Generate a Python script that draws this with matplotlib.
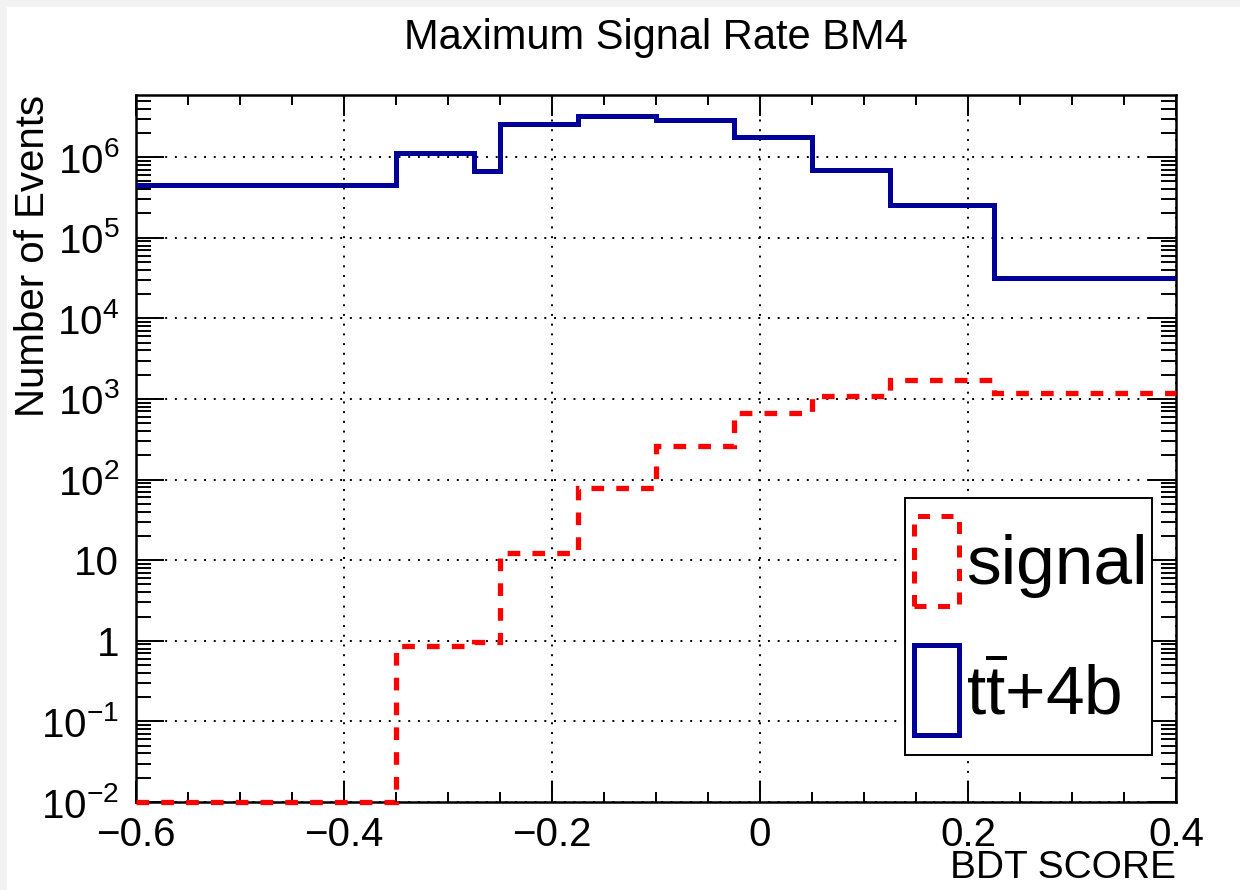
import numpy as np
import matplotlib
matplotlib.use("Agg")
from matplotlib import pyplot as plt
from matplotlib.patches import Rectangle
from matplotlib.ticker import FixedLocator, FuncFormatter, LogLocator, MultipleLocator

plt.rcParams['font.family'] = ['Liberation Sans', 'DejaVu Sans']
plt.rcParams['mathtext.fontset'] = 'custom'
plt.rcParams['mathtext.rm'] = 'Liberation Sans'
plt.rcParams['mathtext.it'] = 'Liberation Sans:italic'
plt.rcParams['mathtext.default'] = 'regular'

# BDT score bin edges (variable width)
bin_edges = [-0.6, -0.35, -0.275, -0.25, -0.175, -0.1, -0.025, 0.05, 0.125, 0.225, 0.4]

# expected events per bin
signal = [0.01, 0.86, 0.96, 12.4, 78, 259, 670, 1080, 1740, 1200]
ttbar_4b = [4.45e5, 1.13e6, 6.8e5, 2.61e6, 3.2e6, 2.93e6, 1.78e6, 7.0e5, 2.56e5, 3.16e4]

labels = ["signal", r"$\mathregular{t\overline{t}}$+4b"]
title = "Maximum Signal Rate BM4"

W, H = 1240, 890
fig = plt.figure(figsize=(W / 100, H / 100), dpi=100, facecolor="#f2f2f2")
fig.patches.append(Rectangle((7 / W, 0), 1, 1 - 7 / H, transform=fig.transFigure,
                             facecolor="white", edgecolor="none", zorder=-10))

ax = fig.add_axes([136 / W, 1 - 802 / H, 1040 / W, 707 / H])

red_ls = (0, (2.4, 2.3))
ax.stairs(signal, bin_edges, baseline=None, color="#ff0000", lw=3.8,
          linestyle=red_ls, clip_on=False, zorder=3)
ax.stairs(ttbar_4b, bin_edges, baseline=None, color="#000099", lw=3.6, zorder=3)

ax.set_yscale("log")
ax.set_xlim(-0.6, 0.4)
ax.set_ylim(0.01, 5.9e6)

# ticks ROOT style: inward, on all four sides
ax.xaxis.set_major_locator(MultipleLocator(0.2))
ax.xaxis.set_minor_locator(MultipleLocator(0.05))
ax.yaxis.set_major_locator(FixedLocator([10.0 ** k for k in range(-2, 7)]))
ax.yaxis.set_minor_locator(LogLocator(base=10, subs=np.arange(2, 10), numticks=20))


def ylab(v, pos):
    k = int(round(np.log10(v)))
    if k == 0:
        return "1"
    if k == 1:
        return "10"
    return r"$10^{%d}$" % k


def xlab(v, pos):
    if abs(v) < 1e-9:
        return "0"
    return ("%.1f" % v).replace("-", "\u2212")


ax.yaxis.set_major_formatter(FuncFormatter(ylab))
ax.xaxis.set_major_formatter(FuncFormatter(xlab))

ax.tick_params(axis="both", which="both", direction="in", top=True, right=True,
               width=1.4, labelsize=29)
ax.tick_params(axis="x", which="major", length=15, pad=10)
ax.tick_params(axis="x", which="minor", length=7)
ax.tick_params(axis="y", which="major", length=20, pad=12)
ax.tick_params(axis="y", which="minor", length=11)
for s in ax.spines.values():
    s.set_linewidth(1.8)

ax.grid(True, which="major", color="black", linestyle=(0, (1, 4)), lw=1.4)

ax.set_xlabel("BDT SCORE", fontsize=28, ha="right")
ax.xaxis.set_label_coords(1.0, -0.068)
ax.set_ylabel("Number of Events", fontsize=29, ha="right", va="center")
ax.yaxis.set_label_coords(-0.099, 1.0)

fig.text(656 / W, 1 - 38 / H, title, fontsize=30, ha="center", va="center")

# legend box
ax.add_patch(Rectangle((905 / W, 1 - 755 / H), 247 / W, 257 / H, transform=fig.transFigure,
                       facecolor="white", edgecolor="black", lw=1.4, zorder=5, clip_on=False))
ax.add_patch(Rectangle((914 / W, 1 - 606 / H), 45 / W, 90 / H, transform=fig.transFigure,
                       facecolor="none", edgecolor="#ff0000", lw=3.6, linestyle=red_ls,
                       zorder=6, clip_on=False))
ax.add_patch(Rectangle((914 / W, 1 - 735 / H), 45 / W, 90 / H, transform=fig.transFigure,
                       facecolor="none", edgecolor="#000099", lw=3.6, zorder=6, clip_on=False))
fig.text(966 / W, 1 - 566 / H, labels[0], fontsize=50, ha="left", va="center", zorder=7)
fig.text(966 / W, 1 - 695 / H, labels[1], fontsize=50, ha="left", va="center", zorder=7)

fig.savefig("out.png", dpi=100, facecolor=fig.get_facecolor())
